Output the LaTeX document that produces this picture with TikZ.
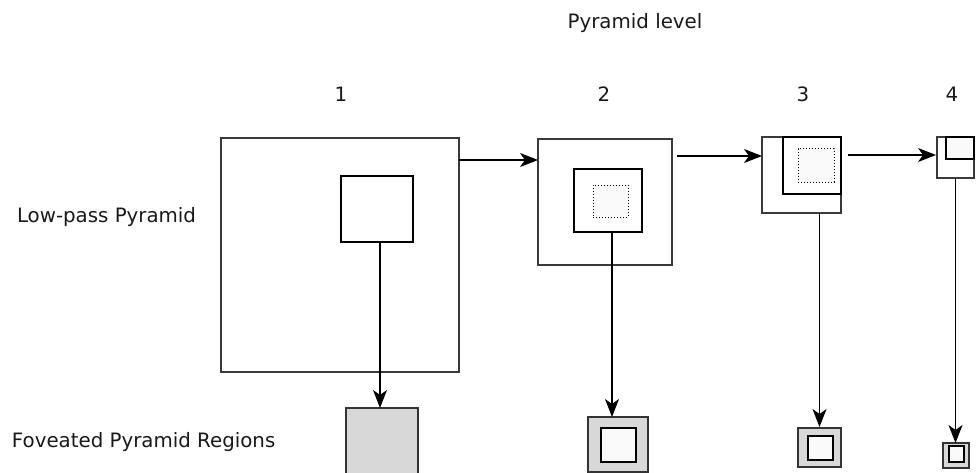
\documentclass[tikz,border=0pt]{standalone}
\usepackage{fontspec}
\setmainfont{DejaVu Sans}
\usetikzlibrary{arrows.meta,calc}
\definecolor{fovfill}{HTML}{D8D8D8}
\definecolor{innerfill}{HTML}{FAFAFA}
\definecolor{outerline}{HTML}{3A3A3A}
\begin{document}
\begin{tikzpicture}[x=1pt,y=-1pt,
  every node/.style={inner sep=0pt,outer sep=0pt},
  outerbox/.style={draw=outerline,line width=1.2pt,fill=white,rectangle},
  innerbox/.style={draw=black,line width=1.2pt,fill=innerfill,rectangle},
  dotbox/.style={draw=black,line width=1pt,dotted,fill=innerfill,rectangle},
  fovbox/.style={draw=black!80,line width=1.2pt,fill=fovfill,rectangle},
  arr/.style={draw=black,line width=1.1pt,-{Stealth[length=18pt,width=14pt,inset=5pt]}},
  lbl/.style={font=\fontsize{19.8}{22}\selectfont,text=black!90}]
\useasboundingbox (0,0) rectangle (976,473);
% labels
\node[lbl,anchor=base] (title) at (635,29) {Pyramid level};
\node[lbl,anchor=base] (n1) at (341,102) {1};
\node[lbl,anchor=base] (n2) at (604,102) {2};
\node[lbl,anchor=base] (n3) at (803,102) {3};
\node[lbl,anchor=base] (n4) at (952,102) {4};
\node[lbl,anchor=base west] (lp) at (17,222) {Low-pass Pyramid};
\node[lbl,anchor=base west] (fp) at (12,447) {Foveated Pyramid Regions};
% level 1
\node[outerbox,minimum width=238pt,minimum height=234pt] (L1o) at (340,255) {};
\node[innerbox,fill=white,minimum width=72pt,minimum height=66pt] (L1i) at (377,209) {};
% level 2
\node[outerbox,minimum width=134pt,minimum height=126pt] (L2o) at (605,202) {};
\node[innerbox,fill=white,minimum width=68pt,minimum height=63pt] (L2i) at (608,200.5) {};
\node[dotbox,minimum width=35pt,minimum height=32pt] (L2d) at (610.5,201) {};
% level 3
\node[outerbox,minimum width=79pt,minimum height=76pt] (L3o) at (801.5,175) {};
\node[innerbox,fill=white,minimum width=58pt,minimum height=57pt] (L3i) at (812,165.5) {};
\node[dotbox,minimum width=36pt,minimum height=33pt] (L3d) at (816,165.5) {};
% level 4
\node[outerbox,minimum width=37pt,minimum height=41pt] (L4o) at (955.5,157.5) {};
\node[innerbox,minimum width=28pt,minimum height=22pt] (L4i) at (960,148) {};
% foveated regions
\node[fovbox,minimum width=72pt,minimum height=80pt] (F1) at (382,448) {};
\node[fovbox,minimum width=60pt,minimum height=55pt] (F2o) at (618,444.5) {};
\node[innerbox,minimum width=35pt,minimum height=34pt] (F2i) at (618.5,445) {};
\node[fovbox,minimum width=43pt,minimum height=39pt] (F3o) at (819.5,447.5) {};
\node[innerbox,minimum width=25pt,minimum height=24pt] (F3i) at (820.5,448) {};
\node[fovbox,minimum width=26pt,minimum height=25pt] (F4o) at (956,455.5) {};
\node[innerbox,minimum width=15pt,minimum height=16pt] (F4i) at (956.5,454) {};
% horizontal arrows
\draw[arr] ([yshift=-22pt]L1o.north east) -- ([yshift=-22pt]L1o.north east -| L2o.west);
\draw[arr] ([xshift=5pt,yshift=-17pt]L2o.north east) -- ([yshift=-17pt]L2o.north east -| L3o.west);
\draw[arr] ([xshift=7pt,yshift=-18pt]L3o.north east) -- ([xshift=-1pt,yshift=-18pt]L3o.north east -| L4o.west);
% vertical arrows
\draw[arr] ([xshift=3pt]L1i.south) -- ([xshift=3pt]L1i.south |- F1.north);
\draw[arr] ([xshift=4pt]L2i.south) -- ([xshift=4pt]L2i.south |- F2o.north);
\draw[arr] (L3o.south -| F3o.north) -- ([yshift=1pt]F3o.north);
\draw[arr] (L4o.south) -- (L4o.south |- F4o.north);
\end{tikzpicture}
\end{document}
